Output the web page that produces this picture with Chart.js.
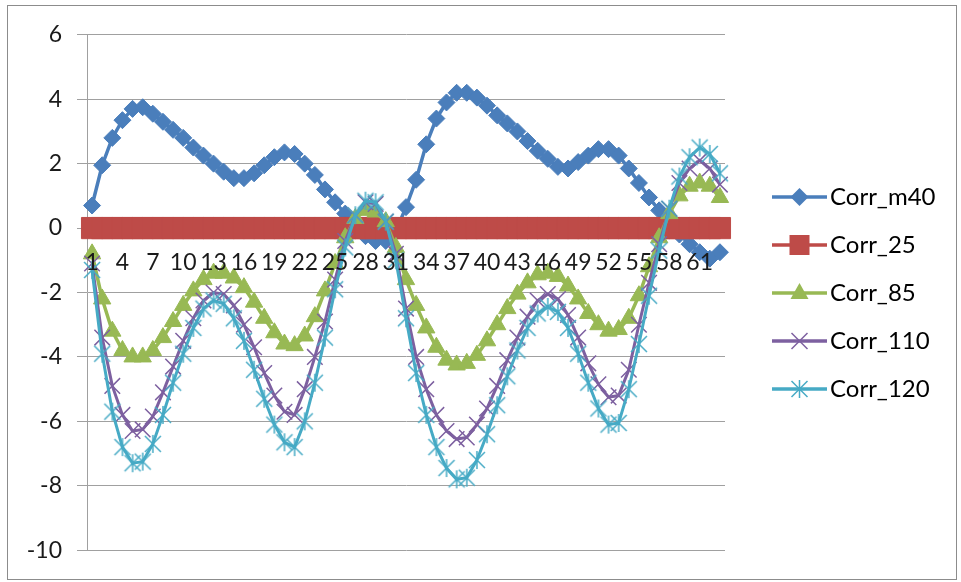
<!DOCTYPE html>
<html>
<head>
<meta charset="utf-8">
<script src="https://cdn.jsdelivr.net/npm/chart.js@4.4.0/dist/chart.umd.min.js"></script>
<style>
  html, body { margin: 0; padding: 0; background: #fff; }
  #frame {
    position: absolute; left: 7px; top: 5px;
    width: 950px; height: 575px;
    border: 1px solid #8c8c8c; box-sizing: border-box;
  }
  #chart { position: absolute; left: 0; top: 0; }
</style>
</head>
<body>
<div id="frame"><canvas id="chart" width="948" height="573"></canvas></div>
<script>
// Categories (1..63) and tick values
const categories = ['1','2','3','4','5','6','7','8','9','10','11','12','13','14','15','16','17','18','19','20',
  '21','22','23','24','25','26','27','28','29','30','31','32','33','34','35','36','37','38','39','40',
  '41','42','43','44','45','46','47','48','49','50','51','52','53','54','55','56','57','58','59','60',
  '61','62','63'];
const yTickValues = [-10, -8, -6, -4, -2, 0, 2, 4, 6];

// Series values
const corrM40 = [0.7, 1.95, 2.8, 3.35, 3.7, 3.75, 3.55, 3.3, 3.05, 2.8,
  2.5, 2.25, 2.0, 1.75, 1.55, 1.55, 1.7, 1.95, 2.2, 2.35,
  2.3, 2.0, 1.65, 1.2, 0.8, 0.45, 0.1, -0.25, -0.4, -0.4,
  -0.1, 0.65, 1.5, 2.6, 3.4, 3.9, 4.2, 4.2, 4.05, 3.8,
  3.5, 3.25, 3.0, 2.7, 2.4, 2.15, 1.9, 1.85, 2.05, 2.25,
  2.45, 2.45, 2.25, 1.85, 1.4, 0.95, 0.55, 0.15, -0.2, -0.5,
  -0.75, -0.95, -0.75];
const corr25 = [0, 0, 0, 0, 0, 0, 0, 0, 0, 0,
  0, 0, 0, 0, 0, 0, 0, 0, 0, 0,
  0, 0, 0, 0, 0, 0, 0, 0, 0, 0,
  0, 0, 0, 0, 0, 0, 0, 0, 0, 0,
  0, 0, 0, 0, 0, 0, 0, 0, 0, 0,
  0, 0, 0, 0, 0, 0, 0, 0, 0, 0,
  0, 0, 0];
const corr85 = [-0.8, -2.2, -3.2, -3.8, -4.0, -4.0, -3.8, -3.4, -2.9, -2.4,
  -1.95, -1.6, -1.4, -1.4, -1.55, -1.85, -2.3, -2.8, -3.25, -3.6,
  -3.65, -3.35, -2.75, -1.95, -1.1, -0.3, 0.3, 0.55, 0.5, 0.2,
  -0.6, -1.6, -2.4, -3.1, -3.7, -4.1, -4.25, -4.2, -3.95, -3.5,
  -3.0, -2.5, -2.05, -1.7, -1.45, -1.4, -1.5, -1.8, -2.2, -2.65,
  -3.0, -3.2, -3.15, -2.8, -2.1, -1.2, -0.3, 0.45, 1.0, 1.3,
  1.4, 1.3, 0.95];
const corr110 = [-1.1, -3.4, -4.9, -5.8, -6.3, -6.25, -5.85, -5.1, -4.3, -3.5,
  -2.8, -2.25, -2.0, -2.05, -2.4, -3.0, -3.7, -4.5, -5.2, -5.7,
  -5.8, -5.0, -4.0, -2.9, -1.6, -0.4, 0.4, 0.8, 0.75, 0.2,
  -0.8, -2.5, -4.0, -5.0, -5.8, -6.3, -6.55, -6.5, -6.1, -5.6,
  -4.9, -4.1, -3.4, -2.75, -2.25, -2.05, -2.2, -2.7, -3.4, -4.2,
  -4.85, -5.25, -5.2, -4.4, -3.0, -1.7, -0.5, 0.6, 1.4, 1.85,
  2.1, 1.85, 1.35];
const corr120 = [-1.3, -3.9, -5.7, -6.8, -7.3, -7.25, -6.7, -5.8, -4.8, -3.9,
  -3.1, -2.5, -2.25, -2.35, -2.8, -3.5, -4.4, -5.3, -6.1, -6.65,
  -6.8, -6.0, -4.8, -3.4, -1.9, -0.6, 0.4, 0.85, 0.8, 0.2,
  -1.0, -2.8, -4.5, -5.8, -6.8, -7.45, -7.8, -7.75, -7.2, -6.4,
  -5.5, -4.6, -3.8, -3.1, -2.65, -2.45, -2.6, -3.1, -3.9, -4.8,
  -5.6, -6.1, -6.05, -5.0, -3.6, -2.1, -0.7, 0.6, 1.6, 2.2,
  2.5, 2.3, 1.7];

const seriesNames = ['Corr_m40', 'Corr_25', 'Corr_85', 'Corr_110', 'Corr_120'];
const seriesColors = ['#4A7EBB', '#BE4B48', '#98B954', '#7D60A0', '#46AAC5'];

const TEXT = '#1a1a1a';
const GRID = '#a0a0a0';

// Draw one Excel-like marker on a 2d context (legend icons + asterisk style)
function drawMarker(ctx, kind, x, y, color) {
  ctx.fillStyle = color;
  ctx.strokeStyle = color;
  ctx.beginPath();
  if (kind === 'diamond') {
    ctx.moveTo(x - 9, y); ctx.lineTo(x, y - 9); ctx.lineTo(x + 9, y); ctx.lineTo(x, y + 9);
    ctx.closePath(); ctx.fill();
  } else if (kind === 'square') {
    ctx.rect(x - 10, y - 10, 20, 20); ctx.fill();
  } else if (kind === 'triangle') {
    ctx.moveTo(x, y - 10); ctx.lineTo(x + 9, y + 6); ctx.lineTo(x - 9, y + 6);
    ctx.closePath(); ctx.fill();
  } else if (kind === 'x') {
    ctx.lineWidth = 1.5;
    ctx.moveTo(x - 8, y - 8); ctx.lineTo(x + 8, y + 8);
    ctx.moveTo(x + 8, y - 8); ctx.lineTo(x - 8, y + 8);
    ctx.stroke();
  } else if (kind === 'star') {
    ctx.lineWidth = 1.5;
    ctx.moveTo(x - 8, y - 8); ctx.lineTo(x + 8, y + 8);
    ctx.moveTo(x + 8, y - 8); ctx.lineTo(x - 8, y + 8);
    ctx.moveTo(x, y - 9); ctx.lineTo(x, y + 9);
    ctx.stroke();
  }
}

// asterisk point style for Corr_120
function makeStar(color) {
  const c = document.createElement('canvas');
  c.width = 20; c.height = 20;
  drawMarker(c.getContext('2d'), 'star', 10, 10, color);
  return c;
}

// legend icon: short line with the marker in the middle
const markerKinds = ['diamond', 'square', 'triangle', 'x', 'star'];
function makeLegendIcon(color, kind) {
  const c = document.createElement('canvas');
  c.width = 87; c.height = 24;
  const ctx = c.getContext('2d');
  ctx.strokeStyle = color;
  ctx.lineWidth = 3.5;
  ctx.beginPath();
  ctx.moveTo(32, 12); ctx.lineTo(87, 12);
  ctx.stroke();
  drawMarker(ctx, kind, 59.5, 12, color);
  return c;
}
const legendIcons = seriesNames.map((n, i) => makeLegendIcon(seriesColors[i], markerKinds[i]));

// fit legend so the plot area ends where the reference's does
const LEGEND_FONT = 24;
const LEGEND_PAD = 24;
const LEGEND_BOX = 69;
const measure = document.createElement('canvas').getContext('2d');
measure.font = LEGEND_FONT + 'px Lato';
const maxText = Math.max(...seriesNames.map(n => measure.measureText(n).width));
const padRight = Math.max(0, 948 - 727 - (LEGEND_PAD + LEGEND_BOX + LEGEND_FONT / 2 + maxText));

function lineSet(i, data, extra) {
  return Object.assign({
    label: seriesNames[i],
    data: data,
    borderColor: seriesColors[i],
    backgroundColor: seriesColors[i],
    pointBackgroundColor: seriesColors[i],
    pointBorderColor: seriesColors[i],
    borderWidth: 3.5,
    tension: 0,
    clip: false,
    order: 5 - i
  }, extra);
}

const datasets = [
  lineSet(0, corrM40, { pointStyle: 'rectRot', pointRadius: 8.5, pointBorderWidth: 1 }),
  lineSet(1, corr25, { pointStyle: 'rect', pointRadius: 15, pointBorderWidth: 1 }),
  lineSet(2, corr85, { pointStyle: 'triangle', pointRadius: 10, pointBorderWidth: 1 }),
  lineSet(3, corr110, { pointStyle: 'crossRot', pointRadius: 11, pointBorderWidth: 1.5, borderWidth: 3 }),
  lineSet(4, corr120, { pointStyle: makeStar(seriesColors[4]), pointRadius: 10, borderWidth: 3 })
];

new Chart(document.getElementById('chart'), {
  type: 'line',
  data: { labels: categories, datasets: datasets },
  options: {
    responsive: false,
    animation: false,
    events: [],
    layout: { padding: { top: 28, bottom: 27, left: 0, right: padRight } },
    plugins: {
      tooltip: { enabled: false },
      legend: {
        position: 'right',
        labels: {
          usePointStyle: true,
          pointStyleWidth: LEGEND_BOX,
          boxHeight: LEGEND_FONT,
          padding: LEGEND_PAD,
          color: TEXT,
          font: { family: 'Lato', size: LEGEND_FONT },
          generateLabels: (chart) => chart.data.datasets.map((ds, i) => ({
            text: ds.label,
            pointStyle: legendIcons[i],
            fillStyle: seriesColors[i],
            strokeStyle: seriesColors[i],
            lineWidth: 0,
            hidden: false,
            datasetIndex: i
          }))
        }
      }
    },
    scales: {
      x: {
        type: 'category',
        offset: true,
        position: { y: 0 },
        grid: { display: false, drawTicks: false },
        border: { display: false },
        ticks: {
          z: 1,
          autoSkip: false,
          maxRotation: 0,
          minRotation: 0,
          padding: 21,
          color: TEXT,
          font: { family: 'Lato', size: 23 },
          callback: function (val, index) {
            return index % 3 === 0 ? this.getLabelForValue(val) : '';
          }
        }
      },
      y: {
        min: yTickValues[0],
        max: yTickValues[yTickValues.length - 1],
        afterFit: (scale) => { scale.width = 79; },
        afterBuildTicks: (scale) => { scale.ticks = yTickValues.map(v => ({ value: v })); },
        grid: { color: GRID, lineWidth: 1, tickLength: 10 },
        border: { display: true, color: GRID },
        ticks: {
          padding: 15,
          color: TEXT,
          font: { family: 'Lato', size: 23 }
        }
      }
    }
  }
});
</script>
</body>
</html>
